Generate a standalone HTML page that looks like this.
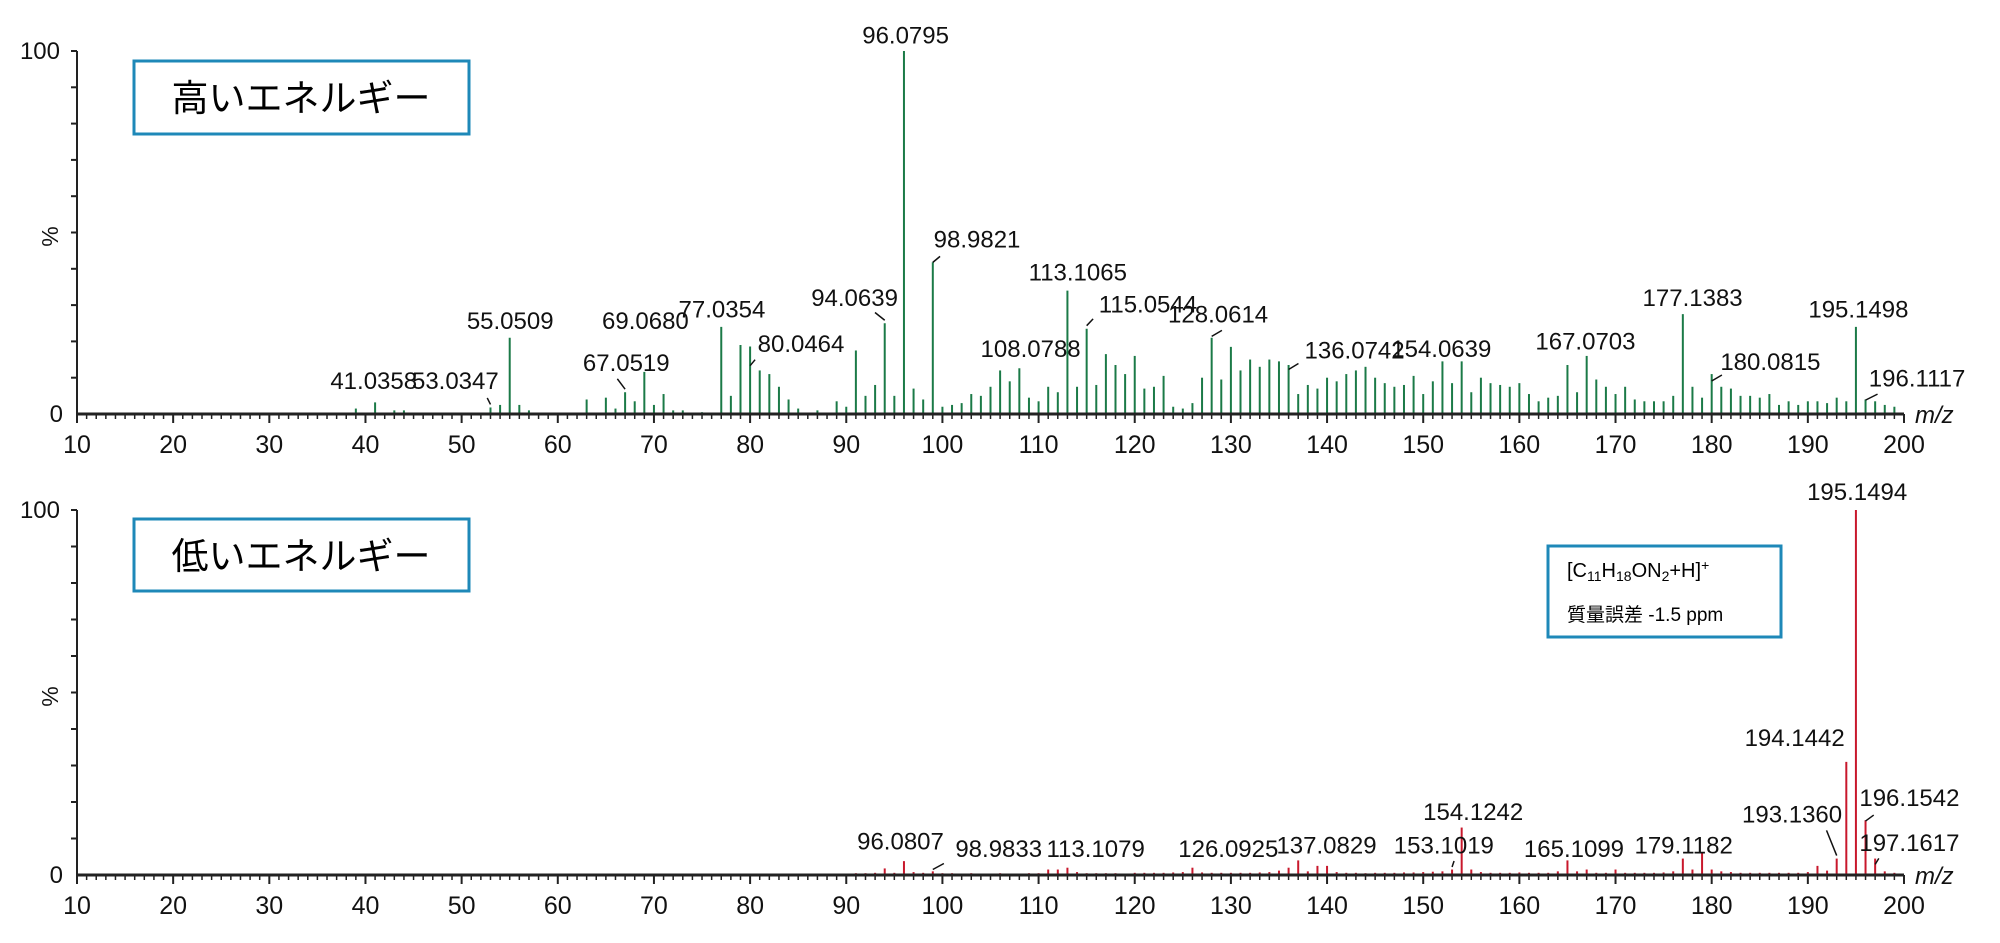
<!DOCTYPE html>
<html><head><meta charset="utf-8"><style>
html,body{margin:0;padding:0;background:#fff;}
svg{display:block;font-family:"Liberation Sans","Noto Sans CJK JP",sans-serif;}
</style></head><body>
<svg id="chart" width="2000" height="943" viewBox="0 0 2000 943" xmlns="http://www.w3.org/2000/svg">
<g id="top"></g>
<g id="bot"></g>
<rect x="134" y="61" width="335" height="73" fill="none" stroke="#1e88b8" stroke-width="3"/>
<text x="301" y="111" font-size="37" text-anchor="middle" font-family="'Noto Sans CJK JP',sans-serif">高いエネルギー</text>
<rect x="134" y="519" width="335" height="72" fill="none" stroke="#1e88b8" stroke-width="3"/>
<text x="301" y="569" font-size="37" text-anchor="middle" font-family="'Noto Sans CJK JP',sans-serif">低いエネルギー</text>
<rect x="1548" y="546" width="233" height="91" fill="none" stroke="#1e88b8" stroke-width="3"/>
<text x="1567" y="577" font-size="20">[C<tspan font-size="14" dy="4">11</tspan><tspan dy="-4">H</tspan><tspan font-size="14" dy="4">18</tspan><tspan dy="-4">ON</tspan><tspan font-size="14" dy="4">2</tspan><tspan dy="-4">+H]</tspan><tspan font-size="14" dy="-7">+</tspan></text>
<text x="1567" y="621" font-size="19">質量誤差 -1.5 ppm</text>
</svg>
<script>
// ---- data ----
const topMz = [39,41,43,44,53,54,55,56,57,63,65,66,67,68,69,70,71,72,73,75,77,78,79,80,81,82,83,84,85,87,89,90,91,92,93,94,95,96,97,98,99,100,101,102,103,104,105,106,107,108,109,110,111,112,113,114,115,116,117,118,119,120,121,122,123,124,125,126,127,128,129,130,131,132,133,134,135,136,137,138,139,140,141,142,143,144,145,146,147,148,149,150,151,152,153,154,155,156,157,158,159,160,161,162,163,164,165,166,167,168,169,170,171,172,173,174,175,176,177,178,179,180,181,182,183,184,185,186,187,188,189,190,191,192,193,194,195,196,197,198,199];
const topVal = [1.5,3.2,1,1,1.8,2.5,21,2.5,1,4,4.5,1.5,6,3.5,11.6,2.5,5.5,1,1,0.5,24,5,19,18.6,12,11,7.5,4,1.5,1,3.5,2,17.5,5,8,25,5,100,7,4,41.8,2,2.5,3,5.5,5,7.5,12,9,12.6,4.5,3.5,7.5,6,34,7.5,23.5,8,16.5,13.5,11,16,7,7.5,10.5,2,1.5,3,10,21,9.5,18.5,12,15,13,15,14.5,13.5,5.5,8,7,10,9,11,12,13,10,8.5,7.5,8,10.5,5.5,9,14.5,8.5,14.5,6,10,8.5,8,7.5,8.5,5.5,3.5,4.5,5,13.5,6,16,9.5,7.5,5.5,7.5,4,3.5,3.5,3.5,5,27.5,7.5,4.5,11,7.5,7,5,5,4.5,5.5,2.5,3.5,2.5,3.5,3.5,3,4.5,3.5,24,4,3.5,2.5,2];
const botMz = [82,84,86,88,90,91,92,93,94,95,96,97,98,99,100,101,102,103,104,105,106,107,108,109,110,111,112,113,114,115,116,117,118,119,120,121,122,123,124,125,126,127,128,129,130,131,132,133,134,135,136,137,138,139,140,141,142,143,144,145,146,147,148,149,150,151,152,153,154,155,156,157,158,159,160,161,162,163,164,165,166,167,168,169,170,171,172,173,174,175,176,177,178,179,180,181,182,183,184,185,186,187,188,189,190,191,192,193,194,195,196,197,198,199];
const botVal = [0.3,0.3,0.4,0.4,0.4,0.5,0.5,0.6,1.8,0.6,3.8,0.8,0.6,1,0.5,0.5,0.4,0.5,0.4,0.4,0.5,0.4,0.4,0.5,0.5,1.5,1.5,2,0.8,0.5,0.5,0.5,0.5,0.4,0.6,0.6,0.6,0.6,0.7,0.8,2,0.7,0.6,0.6,0.6,0.6,0.6,0.7,0.8,1.2,2,4,1,2.5,2.5,0.8,0.6,0.6,0.5,0.6,0.6,0.6,0.7,0.7,0.8,0.9,1,1.5,13,1.5,0.8,0.6,0.6,0.6,0.7,0.6,0.6,0.6,1,4,1,1.5,0.6,0.6,1.5,0.6,0.6,0.6,0.6,0.7,1,4.5,1.5,6,1.5,1,0.8,0.6,0.6,0.6,0.6,0.6,0.6,0.6,0.8,2.5,1.2,4.5,31,100,15,4.5,1,0.6];
const xTicks = [10,20,30,40,50,60,70,80,90,100,110,120,130,140,150,160,170,180,190,200];
const topLabels = [
 [41,"41.0358",293,305],[53,"53.0347",357,305,382,312],[55,"55.0509",400,258],[67,"67.0519",491,291,484,297],
 [69,"69.0680",506,258],[77,"77.0354",566,249],[80,"80.0464",628,276,592,282],[94,"94.0639",670,240,686,245],
 [96,"96.0795",710,34],[99,"98.9821",766,194,737,201],[108,"108.0788",808,280],[113,"113.1065",845,220],
 [115,"115.0544",900,245,857,250],[128,"128.0614",955,253,958,259],[136,"136.0742",1062,281,1018,285],
 [154,"154.0639",1130,280],[167,"167.0703",1243,274],[177,"177.1383",1327,240],[180,"180.0815",1388,290,1350,294],
 [195,"195.1498",1457,249],[196,"196.1117",1503,303,1472,309]];
const botLabels = [
 [96,"96.0807",706,666],[99,"98.9833",783,672,740,677],[113,"113.1079",859,672],[126,"126.0925",963,672],
 [137,"137.0829",1040,669],[153,"153.1019",1132,669,1140,675],[154,"154.1242",1155,643],[165,"165.1099",1234,672],
 [179,"179.1182",1320,669],[193,"193.1360",1405,645,1432,651],[194,"194.1442",1407,585],[195,"195.1494",1456,392],
 [196,"196.1542",1497,632,1469,639],[197,"197.1617",1497,667,1473,673]];
// ---- drawing ----
const NS="http://www.w3.org/2000/svg";
const X0=77, X1=1904, S=1.2755;
function xs(m){return X0+(m-10)*(X1-X0)/190;}
function mk(tag,attrs,parent){const e=document.createElementNS(NS,tag);for(const k in attrs)e.setAttribute(k,attrs[k]);parent.appendChild(e);return e;}
function panel(g,base,top,mzs,vals,color,labels,nm){
  const ys=p=>base-p*(base-top)/100;
  mzs.forEach((m,i)=>{const l=mk('line',{x1:xs(m),x2:xs(m),y1:base,y2:ys(vals[i]),stroke:color,'stroke-width':2},g);
    
    });
  const ya=mk('line',{x1:X0,x2:X0,y1:top,y2:base,stroke:'#222','stroke-width':2},g);
  
  
  for(let i=1;i<=10;i++){const t=mk('line',{x1:X0-6,x2:X0,y1:ys(i*10),y2:ys(i*10),stroke:'#222','stroke-width':2},g);
    
    }
  const xa=mk('line',{x1:X0,x2:X1,y1:base,y2:base,stroke:'#222','stroke-width':3},g);
  
  
  for(let m=10;m<=200;m++){const maj=(m%10===0);const t=mk('line',{x1:xs(m),x2:xs(m),y1:base,y2:base+(maj?9:5),stroke:'#222','stroke-width':maj?2:1.5},g);
    
    }
  xTicks.forEach(v=>{const t=mk('text',{x:xs(v),y:base+39,'font-size':25,'text-anchor':'middle',fill:'#111'},g);t.textContent=v;
    
    });
  const y0=mk('text',{x:X0-14,y:base+8,'font-size':24,'text-anchor':'end',fill:'#111'},g);y0.textContent='0';
  
  
  const y100=mk('text',{x:X0-17,y:top+8,'font-size':24,'text-anchor':'end',fill:'#111'},g);y100.textContent='100';
  
  
  const cy=(base+top)/2+4;
  const pc=mk('text',{x:58,y:cy,'font-size':23,'text-anchor':'middle',fill:'#111',transform:`rotate(-90 58 ${cy})`},g);pc.textContent='%';
  
  
  const mz=mk('text',{x:1915,y:base+9,'font-size':24,'font-style':'italic',fill:'#111'},g);mz.textContent='m/z';
  
  
  labels.forEach(L=>{const t=mk('text',{x:L[2]*S,y:L[3]*S,'font-size':24,'text-anchor':'middle',fill:'#111'},g);t.textContent=L[1];
    
    
    if(L.length>4){const i=mzs.indexOf(L[0]);const py=ys(vals[i])-3;
      const ln=mk('line',{x1:L[4]*S,y1:L[5]*S,x2:xs(L[0]),y2:Math.max(py,L[5]*S+6),stroke:'#111','stroke-width':1.5},g);
      
      }});
}
panel(document.getElementById('top'),414,51,topMz,topVal,'#1b7a47',topLabels,'high');
panel(document.getElementById('bot'),875,510,botMz,botVal,'#c8182c',botLabels,'low');
</script>
</body></html>
